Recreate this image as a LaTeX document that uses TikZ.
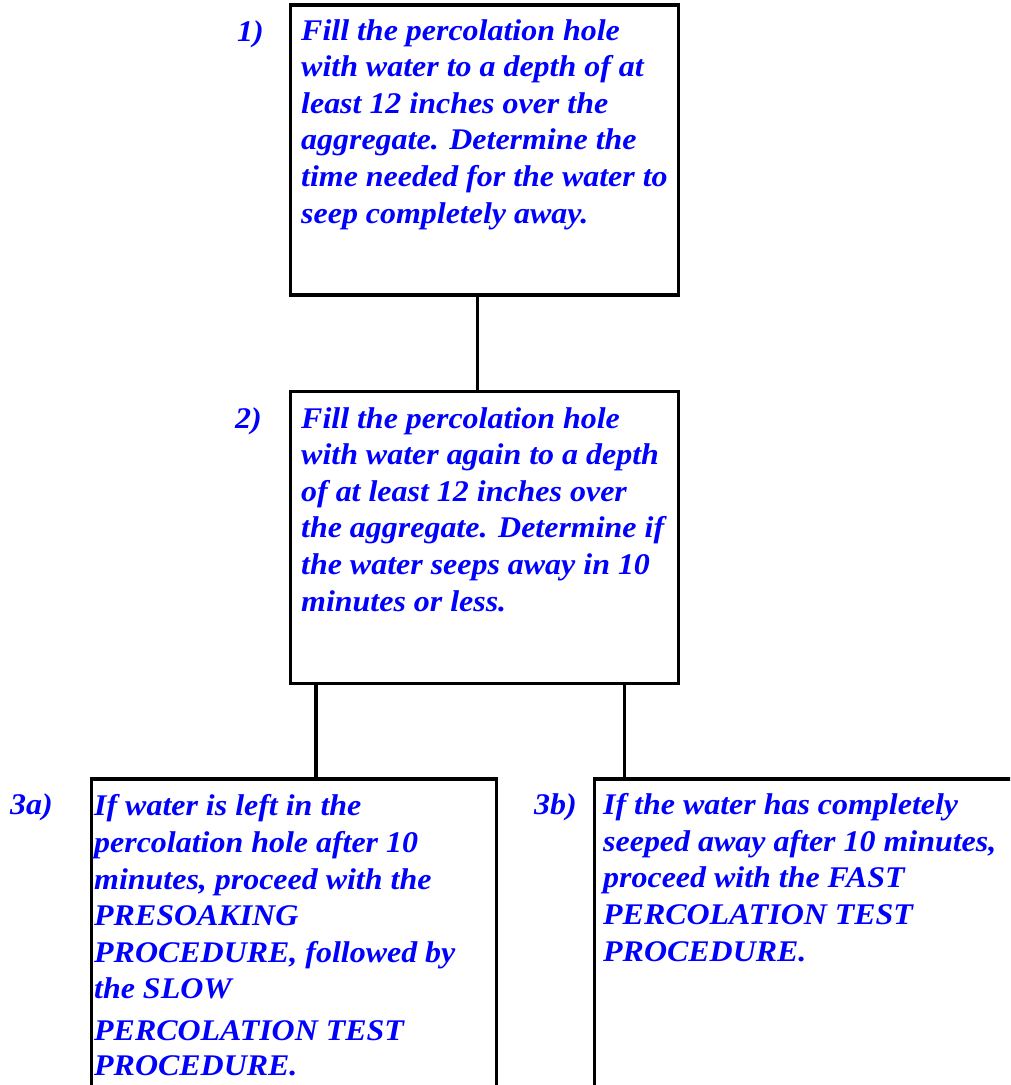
\documentclass[tikz,border=0pt]{standalone}
\usepackage{fontspec}
\setmainfont{Liberation Serif}[BoldItalicFont={Liberation Serif Bold Italic},BoldItalicFeatures={FakeStretch=1.065}]
\begin{document}
\begin{tikzpicture}[x=1pt,y=-1pt,
  stepbox/.style={draw=black, line width=3.2pt, inner sep=0pt},
  conn/.style={draw=black, line width=3.2pt},
  txt/.style={anchor=base west, inner sep=0pt, align=left, text=blue,
    font=\fontsize{30}{36.6}\selectfont\bfseries\itshape}]
\clip (0,0) rectangle (1010,1085);
% boxes
\node[stepbox, minimum width=387.6pt, minimum height=290pt] (b1) at (484.5,150) {};
\node[stepbox, minimum width=387.6pt, minimum height=291.6pt] (b2) at (484.5,537.5) {};
\node[stepbox, minimum width=405pt, minimum height=400pt] (b3a) at (294.2,979) {};
\node[stepbox, minimum width=505.7pt, minimum height=400pt] (b3b) at (847.15,979) {};
% connectors
\draw[conn] ([xshift=-7.2pt]b1.south) coordinate (c1) -- (c1 |- b2.north);
\draw[conn] ([xshift=-168.5pt]b2.south) coordinate (c2) -- (c2 |- b3a.north);
\draw[conn] ([xshift=139.8pt]b2.south) coordinate (c3) -- (c3 |- b3b.north);
% labels
\node[txt] (l1) at (237,41) {1)};
\node[txt] (l2) at (235,428) {2)};
\node[txt] (l3a) at (10,814) {3a)};
\node[txt] (l3b) at (534,814) {3b)};
% texts (anchored at the baseline of their last line)
\node[txt] (t1) at (301,223) {Fill the percolation hole\\with water to a depth of at\\least 12 inches over the\\aggregate. Determine the\\time needed for the water to\\seep completely away.};
\node[txt] (t2) at (301,611) {Fill the percolation hole\\with water again to a depth\\of at least 12 inches over\\the aggregate. Determine if\\the water seeps away in 10\\minutes or less.};
\node[txt] (t3a) at (94,1075) {If water is left in the\\percolation hole after 10\\minutes, proceed with the\\PRESOAKING\\PROCEDURE, followed by\\the SLOW\\[5pt]PERCOLATION TEST\\[-2pt]PROCEDURE.};
\node[txt] (t3b) at (603,961) {If the water has completely\\seeped away after 10 minutes,\\proceed with the FAST\\PERCOLATION TEST\\PROCEDURE.};
\end{tikzpicture}
\end{document}
